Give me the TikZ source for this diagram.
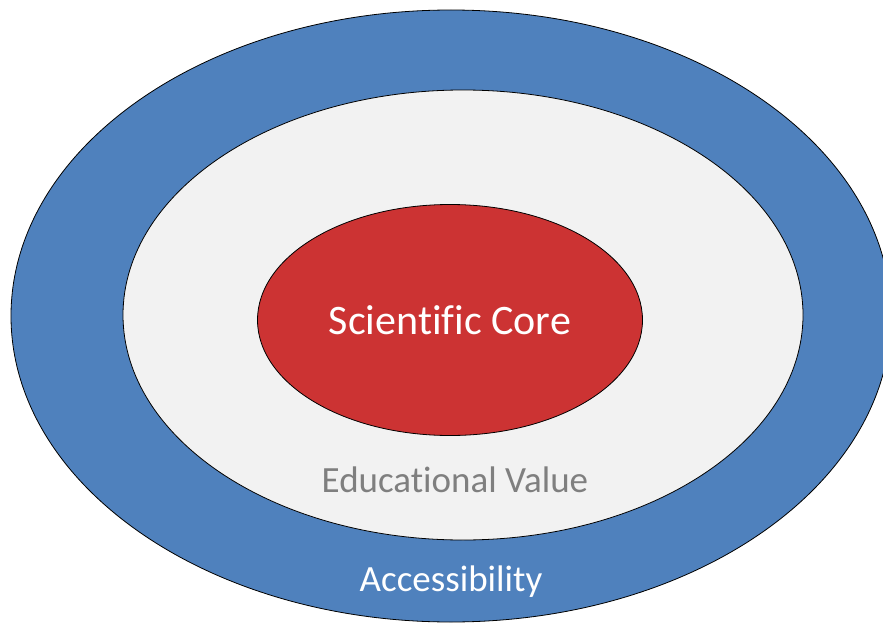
\documentclass[tikz,border=0pt]{standalone}
\usepackage{fontspec}
\setmainfont{Carlito}[Ligatures=NoCommon]
\usetikzlibrary{shapes.geometric}
\definecolor{ringblue}{HTML}{4F81BD}
\definecolor{ringgray}{HTML}{F2F2F2}
\definecolor{corered}{HTML}{CC3333}
\definecolor{labelgray}{HTML}{7F7F7F}
\begin{document}
\begin{tikzpicture}[x=1pt,y=-1pt,ring/.style={draw=black,ellipse,line width=0.8pt,inner sep=0pt}]
\useasboundingbox (0,0) rectangle (883,623);
\node[ring,fill=ringblue,minimum width=880pt,minimum height=612pt] (A) at (451,316) {};
\node[ring,fill=ringgray,minimum width=680pt,minimum height=450pt] (E) at (463,315) {};
\node[ring,fill=corered,minimum width=385pt,minimum height=231pt] (S) at (450,320) {};
\node[text=white,font=\fontsize{42}{50}\selectfont] (Sl) at (S) {Scientific Core};
\node[text=labelgray,font=\fontsize{37}{44}\selectfont] (El) at (455,480) {Educational Value};
\node[text=white,font=\fontsize{37}{44}\selectfont] (Al) at (451,582) {Accessibility};
\end{tikzpicture}
\end{document}
